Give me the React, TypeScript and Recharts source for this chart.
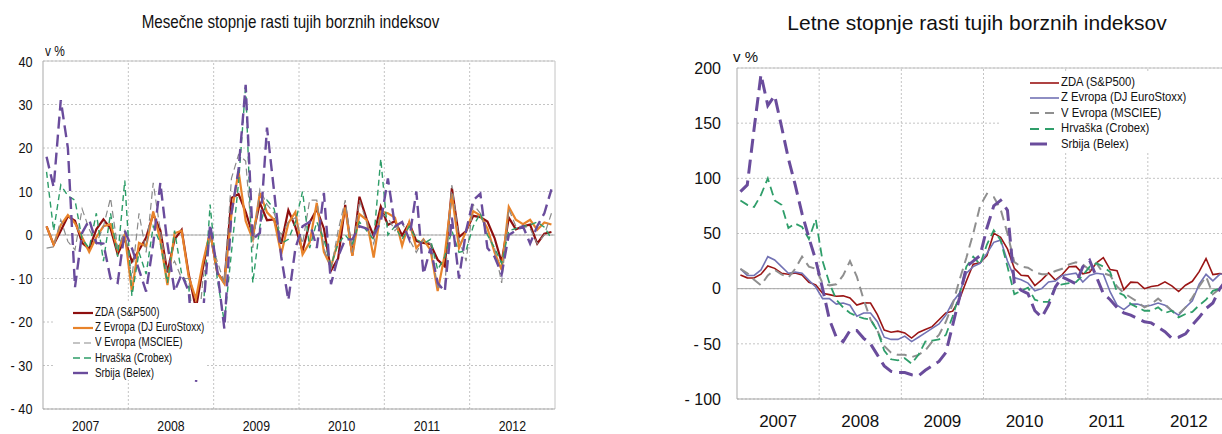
import React from 'react';
import { LineChart, Line, XAxis, YAxis, CartesianGrid, ReferenceLine, Legend } from 'recharts';

const ARIAL = "'Liberation Sans', Arial, sans-serif";
const SQUEEZE = 0.82;

const years = [2007, 2008, 2009, 2010, 2011, 2012];
const categories = years.flatMap((y) =>
  Array.from({ length: 12 }, (_, m) => `${y}-${String(m + 1).padStart(2, '0')}`)
);
const yearTicks = years.map((y) => y + 0.5);
const yearBounds = [2008, 2009, 2010, 2011, 2012];
const leftYTicks = [-40, -30, -20, -10, 0, 10, 20, 30, 40];
const rightYTicks = [-100, -50, 0, 50, 100, 150, 200];

// ---- Monthly growth rates (left chart), in % ----
const zdaMonthly = [
  2.0, -2.2, 1.0, 4.3, 3.3, -1.8, -3.2, 1.3, 3.6, 1.5, -4.4, -0.9,
  -6.1, -3.5, -0.6, 4.8, 1.1, -8.6, -1.0, 1.2, -9.1, -16.9, -7.5, 0.8,
  -8.6, -11.0, 8.5, 9.4, 5.3, 0.0, 7.4, 3.4, 3.6, -2.0, 5.7, 1.8,
  -3.7, 2.9, 5.9, 1.5, -8.2, -5.4, 6.9, -4.7, 8.8, 3.7, -0.2, 6.5,
  2.3, 3.2, -0.1, 2.8, -1.4, -1.8, -2.1, -5.7, -7.2, 10.8, -0.5, 0.9,
  4.4, 4.1, 3.1, -0.7, -6.3, 4.0, 1.3, 2.0, 2.4, -2.0, 0.3, 0.7,
];
const zevMonthly = [
  2.0, -2.2, 2.3, 4.6, 2.7, -0.5, -3.9, -0.5, 2.0, 2.5, -3.5, 0.1,
  -13.0, -1.8, -2.6, 5.4, -1.2, -11.5, 0.4, 1.0, -9.7, -14.7, -6.2, 0.7,
  -8.6, -11.2, 4.8, 14.7, 3.2, -1.0, 9.7, 5.2, 3.5, -4.4, 2.7, 5.3,
  -4.5, -1.7, 7.4, -3.9, -7.3, -1.4, 6.3, -4.8, 4.8, 3.5, -5.2, 5.4,
  5.0, 4.0, -2.5, 3.0, -3.0, -1.0, -3.5, -12.9, -4.5, 9.4, -3.0, 0.9,
  5.5, 4.5, 1.5, -4.0, -8.0, 6.5, 3.5, 2.5, 3.5, 1.2, 2.9, 2.4,
];
const vevMonthly = [
  -3.0, -2.7, 3.5, -1.5, -3.4, 6.0, 1.3, -2.0, 2.0, 8.5, -3.0, 1.0,
  -10.0, 5.0, -4.0, 12.0, 1.0, -9.0, -6.0, -10.0, -10.0, -28.0, -10.0, -1.0,
  -6.0, -11.0, 13.0, 18.5, 17.0, -3.0, 10.5, 7.0, 5.0, 0.0, 3.0, 4.0,
  -2.0, 8.0, 8.0, -3.0, -8.0, 1.0, 8.0, -4.0, 8.0, 3.0, -2.0, 5.0,
  4.0, 1.0, 3.0, -1.0, -4.0, -1.0, -2.0, -12.0, -12.0, 11.5, -1.0, -6.0,
  7.0, 5.0, 0.0, -3.0, -11.0, 6.0, 2.0, 2.0, 1.5, -2.0, 0.0, 5.0,
];
const croMonthly = [
  14.5, 1.0, 11.5, 9.0, 8.0, -1.0, -3.0, 5.0, -6.0, 5.0, -5.0, 12.5,
  -14.0, -4.0, -9.0, 2.0, -2.0, -11.0, 1.0, -9.0, -12.0, -30.0, -18.0, 7.0,
  -10.0, -20.0, -4.0, 12.0, 34.5, -11.0, 2.0, 8.0, 6.0, -2.0, -1.0, 3.0,
  10.0, -3.0, 3.0, -1.0, -7.0, -2.0, 0.0, -2.0, 3.0, 1.0, -1.0, 17.5,
  0.0, 2.0, -1.0, 2.0, -1.0, -2.0, -1.0, -8.0, -5.0, 1.0, -4.0, -3.5,
  2.0, 5.0, 0.0, -3.0, -6.5, 1.0, 1.5, 2.0, 2.3, 3.0, 1.8, -0.8,
];
const belMonthly = [
  18.0, 11.0, 31.0, 20.0, -12.0, 0.5, 3.5, -1.8, -2.0, -10.0, -11.0, 1.0,
  -3.0, -8.0, -13.0, -2.0, 12.0, -2.0, -13.0, -9.0, -13.0, -34.0, -18.0, 2.5,
  -8.0, -21.5, 5.0, 15.0, 34.5, -1.0, 0.5, 24.7, 10.0, -5.0, -15.0, -3.0,
  2.0, 3.0, -3.0, 9.7, -11.3, -5.0, -1.0, -1.0, 2.0, 1.5, 0.0, 3.0,
  13.0, 2.0, 3.0, -1.0, 10.0, -9.0, -3.0, -11.0, -13.0, 4.0, -10.0, 1.0,
  8.0, 9.5, -3.0, -5.0, -9.0, 0.0, 1.0, 2.0, -2.0, 2.0, 5.0, 10.5,
];

// ---- Annual growth rates (right chart), in % ----
const zdaAnnual = [
  12.3, 9.8, 9.7, 13.1, 20.5, 18.4, 14.0, 13.1, 14.3, 12.4, 5.7, 3.5,
  -4.1, -5.4, -6.9, -6.5, -8.5, -14.9, -12.9, -13.0, -23.6, -37.5, -39.5, -38.5,
  -40.1, -44.8, -39.7, -37.0, -34.4, -28.2, -22.1, -20.4, -9.4, 7.0, 22.2, 23.5,
  30.0, 50.3, 46.6, 36.0, 18.5, 12.1, 11.6, 2.8, 8.0, 14.2, 7.8, 12.8,
  19.8, 20.2, 13.4, 14.9, 23.5, 28.1, 17.3, 16.2, -0.9, 5.9, 5.6, 0.0,
  2.0, 2.9, 6.2, 2.5, -2.6, 3.1, 6.7, 15.4, 27.3, 12.7, 13.6, 13.4,
];
const zevAnnual = [
  18, 12, 12, 17, 29, 26, 20, 14, 15, 14, 7.5, 1.5,
  -9, -9, -14, -13, -15, -25, -22, -22, -30, -44, -46, -46,
  -43, -48, -44, -40, -36, -32, -24, -12, -4, 14, 20, 23,
  32, 42, 44, 25, 10, 8, 5, -2, 0, 6, 7, 12,
  13, 14, 6, 12, 14, 13, -3, -15, -19, -14, -14, -16,
  -15, -13, -15, -20, -24, -17, -11, 4, 13, 7, 13, 14,
];
const vevAnnual = [
  18, 14, 8, 3, 12, 17, 13, 10, 18, 29, 20, 18,
  5, 3, 4, 12, 25, 11, -10, -28, -38, -52, -58, -60,
  -60, -62, -60, -56, -48, -42, -30, -14, 8, 28, 50, 75,
  86, 83, 72, 50, 24, 20, 19, 15, 13, 13, 16, 18,
  22, 24, 22, 17, 23, 14, 12, 2, -4, -8, -12, -17,
  -14, -9, -14, -20, -23, -17, -8, 2, 11, -5, 0, 3,
];
const croAnnual = [
  80, 76, 74, 85, 100, 80, 76, 55, 59, 56, 45, 63,
  25, 5, -10, -17, -22, -25, -27, -28, -38, -56, -64, -65,
  -63, -68, -60, -48, -47, -46, -42, -25, -5, 20, 29, 22,
  40, 53, 44, 20, -5, -2, 1, -10, -12, -12, 2, 4,
  5, 6, 12, 20, 23, 20, 15, -3, -6, -14, -17, -20,
  -20, -17, -22, -20, -26, -23, -21, -15, -10, -2, 0, 2,
];
const belAnnual = [
  88, 94, 145, 194, 166, 175, 147, 118, 94, 68, 46, 26,
  0, -28, -44, -48, -38, -38, -45, -50, -60, -70, -75, -76,
  -76, -78, -79, -74, -70, -66, -58, -33, -8, 20, 25, 30,
  55, 75, 80, 71, 5, -1.5, -4.5, -20, -26, -15, 1.5, 10.6,
  7.6, 4.5, 19.7, 25.7, 10.6, -4.5, -10, -17, -22, -24, -27, -30,
  -31, -35, -39, -45, -44, -41, -33, -26, -18, -13, 0, 8,
];

const seriesNames = [
  { key: 'zda', name: 'ZDA (S&P500)' },
  { key: 'zev', name: 'Z Evropa (DJ EuroStoxx)' },
  { key: 'vev', name: 'V Evropa (MSCIEE)' },
  { key: 'cro', name: 'Hrvaška (Crobex)' },
  { key: 'bel', name: 'Srbija (Belex)' },
];

type Style = { stroke: string; width: number; dash?: string; legendDash?: string };

const leftStyles: Record<string, Style> = {
  zda: { stroke: '#8e0f0f', width: 2.2 },
  zev: { stroke: '#e8832a', width: 2.2 },
  vev: { stroke: '#8a8a8a', width: 1.2, dash: '7 4', legendDash: '7 4' },
  cro: { stroke: '#2e9d68', width: 1.4, dash: '6 4', legendDash: '7 4' },
  bel: { stroke: '#6a4c9c', width: 2.4, dash: '12 6', legendDash: '15 10' },
};
const rightStyles: Record<string, Style> = {
  zda: { stroke: '#9a1515', width: 1.6 },
  zev: { stroke: '#7272b4', width: 1.6 },
  vev: { stroke: '#8f8f8f', width: 2, dash: '10 6', legendDash: '9 6' },
  cro: { stroke: '#2f9e6a', width: 1.8, dash: '9 5', legendDash: '9 6' },
  bel: { stroke: '#6a4c9c', width: 3, dash: '14 7', legendDash: '17 20' },
};

function buildRows(a: Record<string, number[]>) {
  return categories.map((c, i) => {
    const [y, m] = c.split('-').map(Number);
    return {
      month: c,
      t: y + (m - 0.5) / 12,
      zda: a.zda[i],
      zev: a.zev[i],
      vev: a.vev[i],
      cro: a.cro[i],
      bel: a.bel[i],
    };
  });
}

const leftRows = buildRows({ zda: zdaMonthly, zev: zevMonthly, vev: vevMonthly, cro: croMonthly, bel: belMonthly });
const rightRows = buildRows({ zda: zdaAnnual, zev: zevAnnual, vev: vevAnnual, cro: croAnnual, bel: belAnnual });

const fmtY = (v: number) => (v < 0 ? `- ${-v}` : `${v}`);
const fmtYear = (v: number) => String(Math.floor(v));

// Narrow (horizontally condensed) tick texts for the left chart
const NarrowXTick = (props: any) => {
  const { x, y, payload } = props;
  return (
    <text x={x} y={y} dy="0.71em" textAnchor="middle" fontSize={15} fill="#111" fontFamily={ARIAL}
      transform={`translate(${x} 0) scale(${SQUEEZE} 1) translate(${-x} 0)`}>
      {fmtYear(payload.value)}
    </text>
  );
};
const NarrowYTick = (props: any) => {
  const { x, y, payload } = props;
  return (
    <text x={x} y={y} dy="0.355em" textAnchor="end" fontSize={15.5} fill="#111" fontFamily={ARIAL}
      transform={`translate(${x} 0) scale(${SQUEEZE} 1) translate(${-x} 0)`}>
      {fmtY(payload.value)}
    </text>
  );
};

function makeLegend(styles: Record<string, Style>, sampleLeft: number, sampleW: number, rowH: number, padTop: number, fontSize: number, squeeze: number) {
  return () => (
    <div style={{ paddingTop: padTop }}>
      {seriesNames.map((s) => {
        const st = styles[s.key];
        return (
          <div key={s.key} style={{ height: rowH, display: 'flex', alignItems: 'center' }}>
            <svg width={sampleW} height={8} style={{ marginLeft: sampleLeft, display: 'block', flex: 'none' }}>
              <line x1={0} y1={4} x2={sampleW} y2={4} stroke={st.stroke} strokeWidth={st.width} strokeDasharray={st.legendDash} />
            </svg>
            <span style={{ marginLeft: 2, fontFamily: ARIAL, fontSize, color: '#111', whiteSpace: 'nowrap', lineHeight: `${rowH}px`,
              display: 'inline-block', transform: `scaleX(${squeeze})`, transformOrigin: 'left center' }}>{s.name}</span>
          </div>
        );
      })}
    </div>
  );
}

const GRID = '#c4c4c4';
const AXIS = '#a9a9a9';

export default function App() {
  return (
    <div style={{ position: 'fixed', left: 0, top: 0, width: 1222, height: 434, overflow: 'hidden', background: '#fff' }}>
      {/* Left chart */}
      <div style={{ position: 'absolute', left: 0, top: 11, width: 580, textAlign: 'center' }}>
        <span style={{ display: 'inline-block', fontFamily: ARIAL, fontSize: 18.5, lineHeight: '22px', color: '#111', transform: `scaleX(${SQUEEZE})`, whiteSpace: 'nowrap' }}>
          Mesečne stopnje rasti tujih borznih indeksov
        </span>
      </div>
      <div style={{ position: 'absolute', left: 45, top: 43, fontFamily: ARIAL, fontSize: 14.5, lineHeight: '16px', color: '#111', transform: `scaleX(${SQUEEZE})`, transformOrigin: 'left center' }}>v %</div>
      <div style={{ position: 'absolute', left: 0, top: 0 }}>
        <LineChart width={560} height={434} data={leftRows} margin={{ top: 61, right: 5, bottom: 0, left: 0 }}>
          <CartesianGrid vertical={false} stroke={GRID} strokeDasharray="2 2" />
          <XAxis type="number" dataKey="t" domain={[2007, 2013]} ticks={yearTicks} interval={0} tickFormatter={fmtYear}
            height={25} tickLine={false} axisLine={{ stroke: AXIS }} tickMargin={5} tick={<NarrowXTick />} />
          <YAxis type="number" domain={[-40, 40]} ticks={leftYTicks} interval={0} tickFormatter={fmtY} width={43}
            tickLine={false} axisLine={{ stroke: AXIS }} tickMargin={4.5} tick={<NarrowYTick />} />
          {yearBounds.map((x) => (
            <ReferenceLine key={x} x={x} stroke={GRID} strokeDasharray="2 2" />
          ))}
          <ReferenceLine y={0} stroke={AXIS} />
          <ReferenceLine y={40} stroke={GRID} />
          <ReferenceLine x={2013} stroke={GRID} />
          {seriesNames.map((s) => {
            const st = leftStyles[s.key];
            return (
              <Line key={s.key} type="linear" dataKey={s.key} name={s.name} stroke={st.stroke} strokeWidth={st.width}
                strokeDasharray={st.dash} dot={false} activeDot={false} isAnimationActive={false} />
            );
          })}
          <Legend layout="vertical" align="center" verticalAlign="middle"
            wrapperStyle={{ left: 53, top: 303, width: 152, height: 77, background: '#fff' }}
            content={makeLegend(leftStyles, 20, 20, 15.2, 2, 12, SQUEEZE)} />
        </LineChart>
      </div>

      {/* Right chart */}
      <div style={{ position: 'absolute', left: 727, top: 10, width: 500, textAlign: 'center', fontFamily: ARIAL, fontSize: 21, lineHeight: '25px', color: '#111' }}>
        Letne stopnje rasti tujih borznih indeksov
      </div>
      <div style={{ position: 'absolute', left: 733, top: 48, fontFamily: ARIAL, fontSize: 15, lineHeight: '18px', color: '#111' }}>v %</div>
      <div style={{ position: 'absolute', left: 660, top: 0 }}>
        <LineChart width={575} height={434} data={rightRows} margin={{ top: 68, right: 5, bottom: 0, left: 0 }}>
          <CartesianGrid vertical={false} stroke={GRID} strokeDasharray="2 2" />
          <XAxis type="number" dataKey="t" domain={[2007, 2013]} ticks={yearTicks} interval={0} tickFormatter={fmtYear}
            height={35} tickLine={false} axisLine={{ stroke: AXIS }} tickMargin={10}
            tick={{ fontSize: 17, fill: '#111', fontFamily: ARIAL }} />
          <YAxis type="number" domain={[-100, 200]} ticks={rightYTicks} interval={0} tickFormatter={fmtY} width={77}
            tickLine={false} axisLine={{ stroke: AXIS }} tickMargin={10}
            tick={{ fontSize: 16, fill: '#111', fontFamily: ARIAL }} />
          {yearBounds.map((x) => (
            <ReferenceLine key={x} x={x} stroke={GRID} strokeDasharray="2 2" />
          ))}
          <ReferenceLine y={0} stroke={AXIS} />
          <ReferenceLine y={200} stroke={GRID} />
          {seriesNames.map((s) => {
            const st = rightStyles[s.key];
            return (
              <Line key={s.key} type="linear" dataKey={s.key} name={s.name} stroke={st.stroke} strokeWidth={st.width}
                strokeDasharray={st.dash} dot={false} activeDot={false} isAnimationActive={false} />
            );
          })}
          <Legend layout="vertical" align="center" verticalAlign="middle"
            wrapperStyle={{ left: 340, top: 73, width: 222, height: 78, background: '#fff' }}
            content={makeLegend(rightStyles, 30, 29, 15.4, 2, 12, 0.94)} />
        </LineChart>
      </div>
    </div>
  );
}
